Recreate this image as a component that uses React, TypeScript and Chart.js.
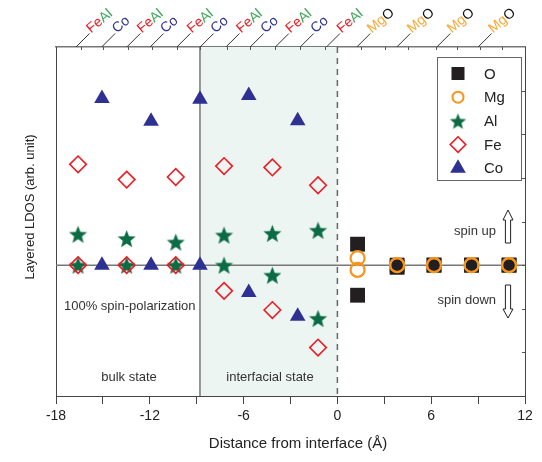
import React, { useEffect, useRef } from 'react';
import { Chart, registerables } from 'chart.js';

Chart.register(...registerables);

const FONT = '"Liberation Sans", Arial, Helvetica, sans-serif';

// ---- data ----
const feAlX = [-16.59, -13.48, -10.34, -7.25, -4.16, -1.24];
const coX = [-15.06, -11.92, -8.79, -5.67, -2.54];
const mgoX = [1.29, 3.82, 6.18, 8.58, 10.98];

const feUp = [2.31, 1.96, 2.02, 2.27, 2.24, 1.83];
const feDown = [0, 0, 0, -0.59, -1.03, -1.89];
const alUp = [0.71, 0.61, 0.53, 0.69, 0.73, 0.8];
const alDown = [0, 0, 0, 0, -0.23, -1.22];
const coUp = [3.82, 3.3, 3.8, 3.89, 3.31];
const coDown = [0, 0, 0, -0.63, -1.17];
const oUp = [0.48, 0, 0, 0, 0];
const oDown = [-0.69, -0.05, 0, 0, 0];
const mgUp = [0.16, 0, 0, 0, 0];
const mgDown = [-0.11, 0, 0, 0, 0];

const interfaceX = 0;
const bulkEdgeX = -8.79;

const topTickX = [-16.42, -14.97, -13.37, -11.88, -10.28, -8.79, -7.08, -5.59, -3.99, -2.39, -0.79, 1.51, 3.05, 4.52, 6.31, 7.66, 9.13, 10.53];
const rightTickY = [-2, -1, 0, 1, 2, 3, 4];

const feAlLabelX = [-16.72, -13.47, -10.27, -7.13, -3.97, -0.7];
const coLabelX = [-15.08, -11.98, -8.78, -5.58, -2.38];
const mgoLabelX = [1.24, 3.8, 6.36, 9.0];

const legendLabels = ['O', 'Mg', 'Al', 'Fe', 'Co'];

// ---- colours ----
const C_O = '#231f20';
const C_MG = '#f7941d';
const C_AL = '#0b6b45';
const C_FE = '#ed1c24';
const C_CO = '#2e3192';
const C_AL_TXT = '#3fa85a';
const C_MG_TXT = '#f9a733';

function makeStar(color: string, R: number, r: number) {
  const size = Math.ceil(R * 2 + 2);
  const c = document.createElement('canvas');
  c.width = size;
  c.height = size;
  const ctx = c.getContext('2d')!;
  ctx.beginPath();
  for (let i = 0; i < 10; i++) {
    const rad = i % 2 === 0 ? R : r;
    const a = -Math.PI / 2 + (i * Math.PI) / 5;
    const px = size / 2 + rad * Math.cos(a);
    const py = size / 2 + 1 + rad * Math.sin(a);
    if (i === 0) ctx.moveTo(px, py);
    else ctx.lineTo(px, py);
  }
  ctx.closePath();
  ctx.fillStyle = color;
  ctx.fill();
  return c;
}

const pts = (xs: number[], up: number[], down: number[]) => [
  ...xs.map((x, i) => ({ x, y: up[i] })),
  ...xs.map((x, i) => ({ x, y: down[i] })),
];

function drawMarker(ctx: CanvasRenderingContext2D, kind: string, x: number, y: number, star: HTMLCanvasElement) {
  ctx.save();
  ctx.beginPath();
  if (kind === 'O') {
    ctx.fillStyle = C_O;
    ctx.fillRect(x - 6.5, y - 6.5, 13, 13);
  } else if (kind === 'Mg') {
    ctx.arc(x, y, 5.5, 0, Math.PI * 2);
    ctx.strokeStyle = C_MG;
    ctx.lineWidth = 2;
    ctx.stroke();
  } else if (kind === 'Al') {
    ctx.drawImage(star, x - star.width / 2, y - star.height / 2);
  } else if (kind === 'Fe') {
    const r = 7.8;
    ctx.moveTo(x - r, y);
    ctx.lineTo(x, y - r);
    ctx.lineTo(x + r, y);
    ctx.lineTo(x, y + r);
    ctx.closePath();
    ctx.strokeStyle = C_FE;
    ctx.lineWidth = 1.6;
    ctx.stroke();
  } else if (kind === 'Co') {
    const r = 9;
    ctx.moveTo(x, y - r);
    ctx.lineTo(x + r * Math.sin((2 * Math.PI) / 3), y + r / 2);
    ctx.lineTo(x - r * Math.sin((2 * Math.PI) / 3), y + r / 2);
    ctx.closePath();
    ctx.fillStyle = C_CO;
    ctx.fill();
  }
  ctx.restore();
}

function hollowArrow(ctx: CanvasRenderingContext2D, x: number, yTip: number, yHead: number, yEnd: number) {
  const hw = 5;
  const sw = 2.6;
  ctx.save();
  ctx.beginPath();
  ctx.moveTo(x, yTip);
  ctx.lineTo(x + hw, yHead);
  ctx.lineTo(x + sw, yHead);
  ctx.lineTo(x + sw, yEnd);
  ctx.lineTo(x - sw, yEnd);
  ctx.lineTo(x - sw, yHead);
  ctx.lineTo(x - hw, yHead);
  ctx.closePath();
  ctx.fillStyle = '#ffffff';
  ctx.fill();
  ctx.strokeStyle = '#222';
  ctx.lineWidth = 1;
  ctx.stroke();
  ctx.restore();
}

export default function App() {
  const ref = useRef<HTMLCanvasElement>(null);

  useEffect(() => {
    const canvas = ref.current!;
    const star = makeStar(C_AL, 9.5, 4.1);
    const legendStar = makeStar(C_AL, 8.5, 3.7);

    const overlay = {
      id: 'overlay',
      beforeDatasetsDraw(chart: any) {
        const { ctx, chartArea } = chart;
        const xs = chart.scales.x;
        const ys = chart.scales.y;
        const xb = xs.getPixelForValue(bulkEdgeX);
        const xi = xs.getPixelForValue(interfaceX);
        ctx.save();
        ctx.fillStyle = '#edf5f2';
        ctx.fillRect(xb, chartArea.top, xi - xb, chartArea.bottom - chartArea.top);
        // bulk / interface boundary
        ctx.strokeStyle = '#333';
        ctx.lineWidth = 1;
        ctx.beginPath();
        ctx.moveTo(xb, chartArea.top);
        ctx.lineTo(xb, chartArea.bottom);
        ctx.stroke();
        // interface dashed line
        ctx.strokeStyle = '#666';
        ctx.lineWidth = 1.5;
        ctx.setLineDash([6, 5]);
        ctx.beginPath();
        ctx.moveTo(xi, chartArea.top);
        ctx.lineTo(xi, chartArea.bottom);
        ctx.stroke();
        ctx.setLineDash([]);
        // zero line
        const y0 = ys.getPixelForValue(0);
        ctx.strokeStyle = '#777';
        ctx.lineWidth = 1.5;
        ctx.beginPath();
        ctx.moveTo(chartArea.left, y0);
        ctx.lineTo(chartArea.right, y0);
        ctx.stroke();
        ctx.restore();
      },
      afterDraw(chart: any) {
        const { ctx, chartArea } = chart;
        const xs = chart.scales.x;
        const ys = chart.scales.y;
        ctx.save();
        // top ticks (inward)
        ctx.strokeStyle = '#555';
        ctx.lineWidth = 1;
        topTickX.forEach((v) => {
          const px = Math.round(xs.getPixelForValue(v)) + 0.5;
          ctx.beginPath();
          ctx.moveTo(px, chartArea.top);
          ctx.lineTo(px, chartArea.top + 3);
          ctx.stroke();
        });
        // right ticks (inward)
        rightTickY.forEach((v) => {
          const py = Math.round(ys.getPixelForValue(v)) + 0.5;
          ctx.beginPath();
          ctx.moveTo(chartArea.right, py);
          ctx.lineTo(chartArea.right - 3, py);
          ctx.stroke();
        });

        // top labels with leaders
        const drawLabel = (v: number, parts: [string, string][]) => {
          const px = xs.getPixelForValue(v);
          const top = chartArea.top;
          ctx.strokeStyle = '#333';
          ctx.lineWidth = 1;
          ctx.beginPath();
          ctx.moveTo(px, top);
          ctx.lineTo(px + 13.5, top - 13.5);
          ctx.stroke();
          ctx.save();
          ctx.translate(px + 15, top - 13.5);
          ctx.rotate((-40 * Math.PI) / 180);
          ctx.font = `14px ${FONT}`;
          ctx.textBaseline = 'alphabetic';
          ctx.textAlign = 'left';
          let off = 0;
          parts.forEach(([t, c]) => {
            ctx.fillStyle = c;
            ctx.fillText(t, off, 0);
            off += ctx.measureText(t).width;
          });
          ctx.restore();
        };
        feAlLabelX.forEach((v) => drawLabel(v, [['Fe', C_FE], ['Al', C_AL_TXT]]));
        coLabelX.forEach((v) => drawLabel(v, [['Co', C_CO]]));
        mgoLabelX.forEach((v) => drawLabel(v, [['Mg', C_MG_TXT], ['O', '#111']]));

        // legend box
        ctx.strokeStyle = '#666';
        ctx.lineWidth = 1;
        ctx.fillStyle = '#fff';
        ctx.fillRect(437.5, 57.5, 84, 123);
        ctx.strokeRect(437.5, 57.5, 84, 123);
        legendLabels.forEach((lab, i) => {
          const ly = 73.5 + i * 23.7;
          drawMarker(ctx, lab, 458, ly, legendStar);
          ctx.fillStyle = '#222';
          ctx.font = `15px ${FONT}`;
          ctx.textAlign = 'left';
          ctx.textBaseline = 'middle';
          ctx.fillText(lab, 484, ly + 1);
        });

        // annotations
        ctx.fillStyle = '#333';
        ctx.font = `13px ${FONT}`;
        ctx.textBaseline = 'middle';
        ctx.textAlign = 'left';
        ctx.fillText('100% spin-polarization', 64, 306);
        ctx.textAlign = 'center';
        ctx.fillText('bulk state', 129, 377);
        ctx.fillText('interfacial state', 270, 377);
        ctx.textAlign = 'right';
        ctx.fillText('spin up', 496, 231);
        ctx.fillText('spin down', 496, 300);
        hollowArrow(ctx, 508, 210, 220, 243);
        hollowArrow(ctx, 508, 318, 309, 285);

        // axis titles
        ctx.fillStyle = '#222';
        ctx.font = `15px ${FONT}`;
        ctx.textAlign = 'center';
        ctx.textBaseline = 'middle';
        ctx.fillText('Distance from interface (\u00C5)', 298, 444);
        ctx.save();
        ctx.translate(30, 207);
        ctx.rotate(-Math.PI / 2);
        ctx.font = `13px ${FONT}`;
        ctx.fillText('Layered LDOS (arb. unit)', 0, 0);
        ctx.restore();
        ctx.restore();
      },
    };

    const chart = new Chart(canvas, {
      type: 'scatter',
      data: {
        datasets: [
          {
            label: 'Mg',
            data: pts(mgoX, mgUp, mgDown),
            pointStyle: 'circle',
            pointRadius: 7,
            pointBorderWidth: 2.2,
            pointBorderColor: C_MG,
            pointBackgroundColor: 'rgba(0,0,0,0)',
            order: 0,
          },
          {
            label: 'O',
            data: pts(mgoX, oUp, oDown),
            pointStyle: 'rect',
            pointRadius: 10.5,
            pointBorderWidth: 0,
            pointBorderColor: C_O,
            pointBackgroundColor: C_O,
            order: 1,
          },
          {
            label: 'Fe',
            data: pts(feAlX, feUp, feDown),
            pointStyle: 'rectRot',
            pointRadius: 8.3,
            pointBorderWidth: 1.6,
            pointBorderColor: C_FE,
            pointBackgroundColor: 'rgba(0,0,0,0)',
            order: 2,
          },
          {
            label: 'Al',
            data: pts(feAlX, alUp, alDown),
            pointStyle: star as any,
            pointRadius: 9,
            order: 3,
          },
          {
            label: 'Co',
            data: pts(coX, coUp, coDown),
            pointStyle: 'triangle',
            pointRadius: 9,
            pointBorderWidth: 0,
            pointBorderColor: C_CO,
            pointBackgroundColor: C_CO,
            order: 4,
          },
        ] as any,
      },
      options: {
        responsive: false,
        maintainAspectRatio: false,
        animation: false,
        events: [],
        layout: { padding: 0 },
        plugins: { legend: { display: false }, tooltip: { enabled: false } },
        scales: {
          x: {
            type: 'linear',
            position: 'bottom',
            min: -18,
            max: 12,
            afterFit: (s: any) => {
              s.height = 66;
            },
            ticks: {
              stepSize: 3,
              autoSkip: false,
              maxRotation: 0,
              padding: 4,
              color: '#222',
              font: { family: FONT, size: 14 },
              callback: (v: any) => (Number(v) % 6 === 0 ? String(v) : ''),
            },
            grid: { drawOnChartArea: false, drawTicks: true, tickLength: 8, color: '#444', tickWidth: 1 },
            border: { display: true, color: '#444', width: 1 },
          },
          x2: {
            type: 'linear',
            position: 'top',
            min: -18,
            max: 12,
            afterFit: (s: any) => {
              s.height = 47;
            },
            ticks: { display: false },
            grid: { display: false, drawTicks: false },
            border: { display: true, color: '#777', width: 1.5 },
          },
          y: {
            type: 'linear',
            position: 'left',
            min: -3,
            max: 5,
            afterFit: (s: any) => {
              s.width = 56;
            },
            ticks: { display: false },
            grid: { drawOnChartArea: false, drawTicks: false },
            border: { display: true, color: '#444', width: 1 },
          },
          y2: {
            type: 'linear',
            position: 'right',
            min: -3,
            max: 5,
            afterFit: (s: any) => {
              s.width = 17;
            },
            ticks: { display: false },
            grid: { display: false, drawTicks: false },
            border: { display: true, color: '#444', width: 1 },
          },
        },
      } as any,
      plugins: [overlay],
    });

    return () => chart.destroy();
  }, []);

  return (
    <div style={{ position: 'absolute', left: 0, top: 0, width: 542, height: 462 }}>
      <canvas ref={ref} width={542} height={462} style={{ display: 'block', width: 542, height: 462 }} />
    </div>
  );
}
